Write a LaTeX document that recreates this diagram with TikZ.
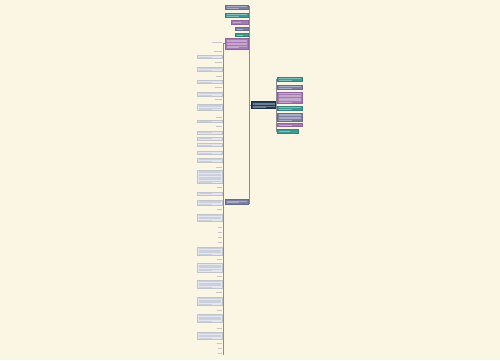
\documentclass[tikz,border=0pt]{standalone}
\definecolor{bgc}{HTML}{FBF6E3}
\definecolor{cnavy}{HTML}{1F3A56}
\definecolor{cgrey}{HTML}{7A7FA3}
\definecolor{cteal}{HTML}{3E9A93}
\definecolor{cpurp}{HTML}{A678B5}
\definecolor{clight}{HTML}{E4E7EF}
\definecolor{spine}{HTML}{8C8C8C}
\definecolor{txtc}{HTML}{A0A7BC}
\begin{document}
\begin{tikzpicture}[x=1pt,y=-1pt,
  cbox/.style={anchor=north west, inner sep=0pt, outer sep=0pt, line width=0.25pt},
  conn/.style={draw=spine, line width=0.6pt},
  labnode/.style={anchor=east, inner sep=0pt, outer sep=0pt, minimum height=1.5pt}]
\fill[bgc] (0,0) rectangle (500,360);
\useasboundingbox (0,0) rectangle (500,360);

% boxes: name/fill/text colour/x1/y1/x2/y2
\foreach \bn/\bc/\bt/\xa/\ya/\xb/\yb in {
  cen/cnavy/white/251/101.5/276/108.5,
  t1/cgrey/white/225/5/248/9.5,
  t2/cteal/white/225/13/248/17.5,
  t3/cpurp/white/231/20.5/248/24,
  t4/cgrey/white/235/27/248/30.5,
  t5/cteal/white/235/33/248/36.5,
  t6/cpurp/white/225/38.5/248/49,
  t7/cgrey/white/225/199.5/248/204,
  r1/cteal/white/277.5/77/302/81.5,
  r2/cgrey/white/277.5/85/302/89,
  r3/cpurp/white/277.5/92/302/103.5,
  r4/cteal/white/277.5/106/302/110.5,
  r5/cgrey/white/277.5/113/302/121,
  r6/cpurp/white/277.5/123/302/126.5,
  r7/cteal/white/277.5/129.5/298/133,
  l1/clight/txtc/197/55/222/58.5,
  l2/clight/txtc/197/67/222/71.5,
  l3/clight/txtc/197/80/222/83.5,
  l4/clight/txtc/197/92/222/96.5,
  l5/clight/txtc/197/104/222/110.5,
  l6/clight/txtc/197/120/222/122.5,
  l7/clight/txtc/197/131/222/134,
  l8/clight/txtc/197/137/222/140,
  l9/clight/txtc/197/143/222/146.5,
  l10/clight/txtc/197/151/222/154.5,
  l11/clight/txtc/197/158/222/162.5,
  l12/clight/txtc/197/170/222/183.5,
  l13/clight/txtc/197/192/222/195,
  l14/clight/txtc/197/200/222/205,
  l15/clight/txtc/197/214/222/221.5,
  l16/clight/txtc/197/247/222/255.5,
  l17/clight/txtc/197/263/222/272,
  l18/clight/txtc/197/280/222/288.5,
  l19/clight/txtc/197/297/222/305.5,
  l20/clight/txtc/197/314/222/322.5,
  l21/clight/txtc/197/332/222/339.5}{
  \pgfmathsetmacro\bw{\xb-\xa}
  \pgfmathsetmacro\bh{\yb-\ya}
  \node[cbox, fill=\bc, draw=\bc!85!black, minimum width=\bw pt, minimum height=\bh pt] (\bn) at (\xa,\ya) {};
  \pgfmathtruncatemacro\nl{max(1,floor((\bh-0.8)/1.4))}
  \pgfmathsetmacro\ys{\ya+(\bh-(\nl-1)*1.4)/2}
  \foreach \k in {1,...,\nl}{
    \pgfmathsetmacro\yy{\ys+(\k-1)*1.4}
    \ifnum\k=\nl
      \pgfmathsetmacro\xe{\xa+1.5+0.6*(\bw-3)}
    \else
      \pgfmathsetmacro\xe{\xb-1.5}
    \fi
    \draw[\bt, line width=0.35pt, opacity=0.35] (\xa+1.5,\yy) -- (\xe,\yy);
  }
}

% short labels on the sub branch
\foreach \i/\y/\lw in {1/42.5/10, 2/51/8, 3/62/7, 4/76/6, 5/87/7, 6/99.5/7, 7/117/6, 8/126.5/6,
  9/167/6, 10/187/5, 11/209/5, 12/227/4, 13/232/4, 14/237/4, 15/242/4, 16/259/5, 17/276/5,
  18/292/6, 19/310/5, 20/328/5, 21/343/5, 22/348/4, 23/353/4}{
  \node[labnode, minimum width=\lw pt] (lab\i) at (221.5,\y) {};
  \draw[txtc, line width=0.4pt, opacity=0.6] (lab\i.west) -- (lab\i.east);
}

% connectors
\coordinate (sTop) at (223.3,42.5);
\coordinate (sBot) at (223.3,355);
\draw[conn] (cen.west) -- (cen.west -| 249.2,0);
\draw[conn] (249.2,5.5) -- (249.2,204);
\draw[conn] (cen.east) -- (cen.east -| 276.6,0);
\draw[conn] (276.6,79) -- (276.6,131.5);
\draw[conn] (t6.west) -- (t6.west -| sTop);
\draw[conn] (sTop) -- (sBot);
\end{tikzpicture}
\end{document}
